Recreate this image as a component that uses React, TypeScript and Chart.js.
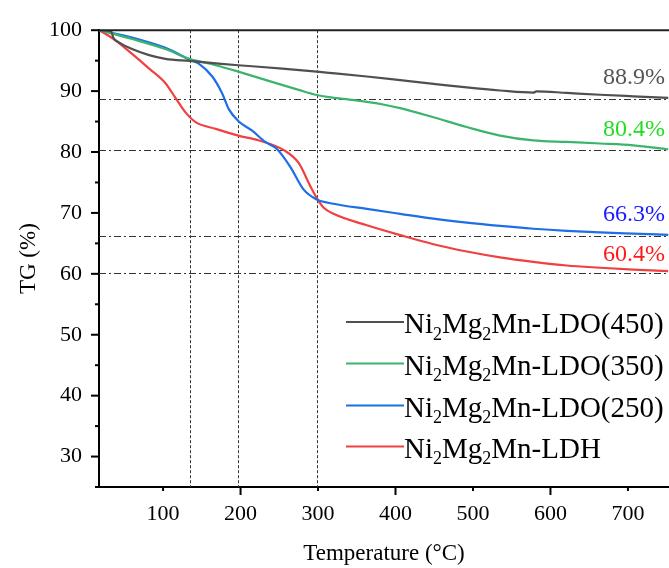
import React, { useEffect, useRef } from 'react';
import { Chart, registerables } from 'chart.js';

Chart.register(...registerables);

const FONT = '"Liberation Serif", "Times New Roman", serif';

// ---- data (temperature °C, TG %) ----
const ldo450Temp = [18, 33, 36, 43, 60, 82, 103, 134, 165, 197, 254, 314, 363, 406, 449, 492, 535, 578, 582, 621, 664, 707, 752];
const ldo450TG = [100, 99.8, 98.7, 98.0, 96.9, 95.9, 95.3, 94.95, 94.6, 94.25, 93.7, 93.0, 92.4, 91.8, 91.2, 90.6, 90.1, 89.75, 89.97, 89.7, 89.4, 89.15, 88.9];

const ldo350Temp = [18, 60, 103, 134, 168, 197, 232, 275, 297, 314, 341, 384, 406, 449, 492, 535, 578, 621, 664, 707, 752];
const ldo350TG = [100, 98.55, 96.9, 95.3, 94.25, 93.2, 91.85, 90.2, 89.4, 89.0, 88.6, 87.8, 87.2, 85.7, 84.1, 82.7, 81.9, 81.65, 81.4, 81.1, 80.45];

const ldo250Temp = [18, 60, 103, 134, 146, 163.5, 176, 185, 197, 215, 232, 247, 264, 281, 297, 320, 363, 406, 449, 492, 535, 578, 621, 664, 707, 752];
const ldo250TG = [100, 98.8, 97.1, 95.2, 94.5, 92.4, 89.7, 87.0, 85.1, 83.5, 81.65, 80.5, 77.6, 73.9, 72.3, 71.5, 70.66, 69.85, 69.05, 68.4, 67.86, 67.4, 67.05, 66.8, 66.6, 66.4];

const ldhTemp = [18, 39, 60, 82, 103, 116, 129, 142, 168, 197, 224, 256, 275, 290, 299, 307, 320, 363, 406, 449, 492, 535, 578, 621, 664, 707, 752];
const ldhTG = [100, 98.3, 96.1, 93.7, 91.3, 88.9, 86.5, 84.9, 83.8, 82.7, 81.9, 80.3, 78.2, 74.4, 72.3, 70.9, 69.85, 67.97, 66.36, 64.86, 63.67, 62.71, 61.97, 61.37, 61.0, 60.68, 60.45];

const seriesNames = ['Ni_2Mg_2Mn-LDO(450)', 'Ni_2Mg_2Mn-LDO(350)', 'Ni_2Mg_2Mn-LDO(250)', 'Ni_2Mg_2Mn-LDH'];
const seriesColors = ['#505050', '#3cb46e', '#1e6ee6', '#f04040'];

const residueLabels = ['88.9%', '80.4%', '66.3%', '60.4%'];
const residueLevels = [88.75, 80.35, 66.25, 60.2];
const residueLabelColors = ['#555555', '#22dd22', '#1a1aff', '#ff1a1a'];
const residueLabelTG = [91.15, 82.6, 68.6, 62.1];
const residueLabelTemp = 747.8;

const stageTemps = [135, 197, 299];

const xMin = 17.3;
const xMax = 753;
const yMin = 25;
const yMax = 100;
const xTickLabels = [100, 200, 300, 400, 500, 600, 700];
const xMajorTicks = [200, 400, 600];
const yTickLabels = [30, 40, 50, 60, 70, 80, 90, 100];
const yMinorTicks = [25, 35, 45, 55, 65, 75, 85, 95];

function toPoints(t: number[], v: number[]) {
  return t.map((x, i) => ({ x, y: v[i] }));
}

function drawRich(ctx: CanvasRenderingContext2D, text: string, x: number, baseline: number, size: number) {
  const parts = text.split(/(_\d)/);
  let cx = x;
  for (const p of parts) {
    if (!p) continue;
    if (p.startsWith('_')) {
      const s = p.slice(1);
      ctx.font = `${Math.round(size * 0.62)}px ${FONT}`;
      ctx.fillText(s, cx, baseline + size * 0.24);
      cx += ctx.measureText(s).width;
    } else {
      ctx.font = `${size}px ${FONT}`;
      ctx.fillText(p, cx, baseline);
      cx += ctx.measureText(p).width;
    }
  }
}

const overlayPlugin = {
  id: 'overlay',
  beforeDatasetsDraw(chart: any) {
    const { ctx, chartArea: a, scales } = chart;
    const x = scales.x;
    const y = scales.y;
    ctx.save();
    ctx.lineWidth = 1;
    ctx.strokeStyle = '#333';
    ctx.setLineDash([3, 2]);
    stageTemps.forEach((t) => {
      const px = Math.round(x.getPixelForValue(t)) + 0.5;
      ctx.beginPath();
      ctx.moveTo(px, a.top);
      ctx.lineTo(px, a.bottom);
      ctx.stroke();
    });
    ctx.setLineDash([7, 3, 2, 3]);
    residueLevels.forEach((v) => {
      const py = Math.round(y.getPixelForValue(v)) + 0.5;
      ctx.beginPath();
      ctx.moveTo(a.left, py);
      ctx.lineTo(a.right, py);
      ctx.stroke();
    });
    ctx.restore();
  },
  afterDraw(chart: any) {
    const { ctx, chartArea: a, scales } = chart;
    const x = scales.x;
    const y = scales.y;
    ctx.save();
    // top frame line
    ctx.strokeStyle = '#222';
    ctx.lineWidth = 2;
    ctx.beginPath();
    ctx.moveTo(a.left, a.top);
    ctx.lineTo(a.right, a.top);
    ctx.stroke();
    // ticks
    ctx.strokeStyle = '#000';
    ctx.lineWidth = 2;
    yTickLabels.forEach((v) => {
      const py = y.getPixelForValue(v);
      ctx.beginPath();
      ctx.moveTo(a.left, py);
      ctx.lineTo(a.left - 8, py);
      ctx.stroke();
    });
    yMinorTicks.forEach((v) => {
      const py = y.getPixelForValue(v);
      ctx.beginPath();
      ctx.moveTo(a.left, py);
      ctx.lineTo(a.left - 4, py);
      ctx.stroke();
    });
    xTickLabels.forEach((v) => {
      const px = x.getPixelForValue(v);
      const len = xMajorTicks.includes(v) ? 8 : 4;
      ctx.beginPath();
      ctx.moveTo(px, a.bottom);
      ctx.lineTo(px, a.bottom + len);
      ctx.stroke();
    });
    // residue labels
    ctx.font = `24px ${FONT}`;
    ctx.textAlign = 'right';
    ctx.textBaseline = 'alphabetic';
    residueLabels.forEach((lab, i) => {
      ctx.fillStyle = residueLabelColors[i];
      ctx.fillText(lab, x.getPixelForValue(residueLabelTemp), y.getPixelForValue(residueLabelTG[i]));
    });
    // legend
    ctx.textAlign = 'left';
    const lx0 = a.left + 247;
    const lx1 = a.left + 305;
    const rowY = [322, 363.5, 405.5, 446.5];
    seriesNames.forEach((name, i) => {
      ctx.strokeStyle = seriesColors[i];
      ctx.lineWidth = 2;
      ctx.beginPath();
      ctx.moveTo(lx0, rowY[i]);
      ctx.lineTo(lx1, rowY[i]);
      ctx.stroke();
      ctx.fillStyle = '#000';
      drawRich(ctx, name, lx1, rowY[i] + 11, 29);
    });
    ctx.restore();
  },
};

export default function App() {
  const ref = useRef<HTMLCanvasElement | null>(null);
  useEffect(() => {
    if (!ref.current) return;
    const datasets = [
      toPoints(ldo450Temp, ldo450TG),
      toPoints(ldo350Temp, ldo350TG),
      toPoints(ldo250Temp, ldo250TG),
      toPoints(ldhTemp, ldhTG),
    ].map((data, i) => ({
      label: seriesNames[i].replace(/_/g, ''),
      data,
      borderColor: seriesColors[i],
      backgroundColor: seriesColors[i],
      borderWidth: 2.2,
      pointRadius: 0,
      tension: 0.4,
      cubicInterpolationMode: 'monotone' as const,
      fill: false,
    }));
    const chart = new Chart(ref.current, {
      type: 'line',
      data: { datasets },
      options: {
        responsive: false,
        animation: false,
        layout: { padding: { top: 21, right: 0, left: 0, bottom: 0 } },
        plugins: { legend: { display: false }, tooltip: { enabled: false } },
        scales: {
          x: {
            type: 'linear',
            min: xMin,
            max: xMax,
            afterFit: (s: any) => {
              s.height = 81;
            },
            afterBuildTicks: (s: any) => {
              s.ticks = xTickLabels.map((v) => ({ value: v }));
            },
            grid: { display: false, drawTicks: false },
            border: { display: true, color: '#000', width: 2 },
            ticks: {
              font: { family: FONT, size: 22 },
              color: '#000',
              padding: 14,
              maxRotation: 0,
              autoSkip: false,
            },
            title: {
              display: true,
              text: 'Temperature (°C)',
              font: { family: FONT, size: 23 },
              color: '#000',
              padding: { top: 0, bottom: 0 },
            },
          },
          y: {
            type: 'linear',
            min: yMin,
            max: yMax,
            afterFit: (s: any) => {
              s.width = 99;
            },
            afterBuildTicks: (s: any) => {
              s.ticks = yTickLabels.map((v) => ({ value: v }));
            },
            grid: { display: false, drawTicks: false },
            border: { display: true, color: '#000', width: 2 },
            ticks: {
              font: { family: FONT, size: 22 },
              color: '#000',
              padding: 17,
              autoSkip: false,
            },
            title: {
              display: true,
              text: 'TG (%)',
              font: { family: FONT, size: 23 },
              color: '#000',
              padding: { top: 15, bottom: 0 },
            },
          },
        },
      },
      plugins: [overlayPlugin],
    });
    return () => chart.destroy();
  }, []);
  return (
    <div style={{ position: 'fixed', left: 0, top: 0, width: 669, height: 568, background: '#fff' }}>
      <canvas ref={ref} width={669} height={568} style={{ display: 'block' }} />
    </div>
  );
}
